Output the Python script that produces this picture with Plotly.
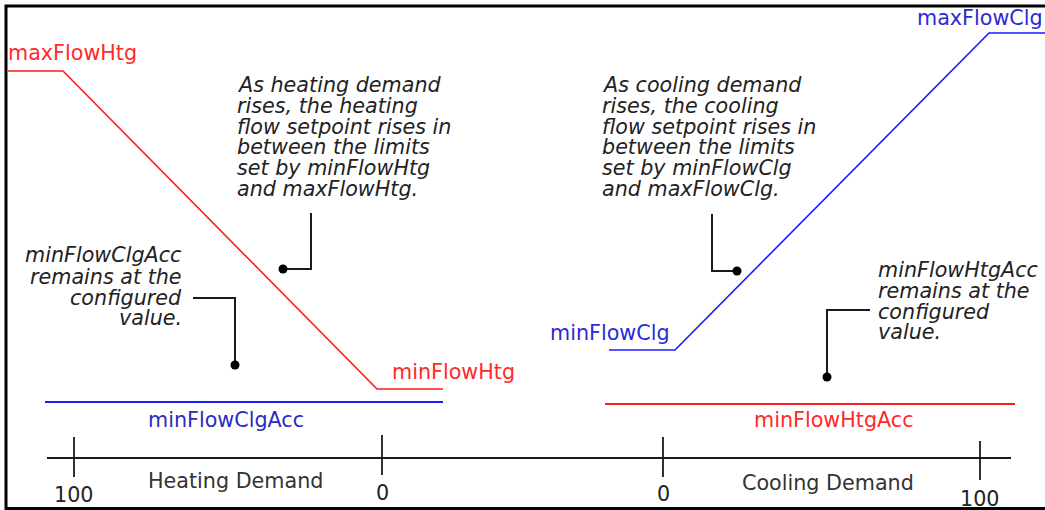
import plotly.graph_objects as go

W, H = 1045, 510

# ---- diagram data (diagram units = picture pixels, y downward) ----
htg_x = [8, 63, 377, 443]          # heating flow setpoint (red)
htg_y = [71, 71, 389, 389]
clg_x = [609, 675, 989, 1045]      # cooling flow setpoint (blue)
clg_y = [350, 350, 33, 33]
clg_acc_x = [45, 443]              # minFlowClgAcc (blue)
clg_acc_y = [402, 402]
htg_acc_x = [605, 1015]            # minFlowHtgAcc (red)
htg_acc_y = [404, 404]

axis_x = [47, 1011]
axis_y = [458, 458]
tick_x = [74, 382, 663, 980]
tick_top = [437, 435, 437, 441]
tick_bot = [477, 475, 477, 480]
tick_labels = ["100", "0", "0", "100"]
tick_label_y = [495, 493, 494, 499]

demand_labels = ["Heating Demand", "Cooling Demand"]
demand_x = [235, 828]
demand_y = [481, 483]

# callouts: polyline vertices, last vertex gets a dot
callouts_x = [[311, 311, 283], [712, 712, 737], [193, 235, 235], [870, 827, 827]]
callouts_y = [[213, 269, 269], [214, 271, 271], [298, 298, 365], [310, 310, 377]]

# frame
frame_x = [1045, 6, 6, 1045]
frame_y = [6, 6, 508.5, 508.5]

heat_note = ["As heating demand", "rises, the heating", "flow setpoint rises in",
             "between the limits", "set by minFlowHtg", "and maxFlowHtg."]
cool_note = ["As cooling demand", "rises, the cooling", "flow setpoint rises in",
             "between the limits", "set by minFlowClg", "and maxFlowClg."]
clgacc_note = ["minFlowClgAcc", "remains at the", "configured", "value."]
htgacc_note = ["minFlowHtgAcc", "remains at the", "configured", "value."]
note_line_y = [85, 106, 127, 147, 168, 189]
acc_line_y_left = [255, 277, 298, 318]
acc_line_y_right = [270, 291, 312, 332]

series_labels = [
    # text, x, y, anchor, colour
    ("maxFlowHtg", 7, 53, "left", "#ff2a2a"),
    ("minFlowHtg", 391, 372, "left", "#ff2a2a"),
    ("maxFlowClg", 1044, 18, "right", "#2b2bd6"),
    ("minFlowClg", 549, 333, "left", "#2b2bd6"),
    ("minFlowClgAcc", 226, 420, "center", "#2b2bc0"),
    ("minFlowHtgAcc", 834, 420, "center", "#ff2a2a"),
]

RED = "#ff1a1a"
BLUE = "#1a1aff"
BLACK = "#1a1a1a"
FONT = "DejaVu Sans"
FS = 20.7

fig = go.Figure()

def line(x, y, color, width):
    fig.add_trace(go.Scatter(x=x, y=y, mode="lines", hoverinfo="skip",
                             line=dict(color=color, width=width), showlegend=False))

line(frame_x, frame_y, "#000000", 3)
line(htg_x, htg_y, RED, 1.6)
line(clg_x, clg_y, BLUE, 1.6)
line(clg_acc_x, clg_acc_y, BLUE, 1.8)
line(htg_acc_x, htg_acc_y, RED, 1.8)
line(axis_x, axis_y, BLACK, 1.8)
for tx, t0, t1 in zip(tick_x, tick_top, tick_bot):
    line([tx, tx], [t0, t1], BLACK, 1.8)
for cx, cy in zip(callouts_x, callouts_y):
    line(cx, cy, BLACK, 2)
fig.add_trace(go.Scatter(x=[c[-1] for c in callouts_x], y=[c[-1] for c in callouts_y],
                         mode="markers", marker=dict(color="#000000", size=9),
                         hoverinfo="skip", showlegend=False))

ann = []
def text(t, x, y, anchor, color, italic=False, size=FS):
    ann.append(dict(text=t, x=x, y=y, xref="x", yref="y", showarrow=False,
                    xanchor=anchor, yanchor="middle", borderpad=0,
                    font=dict(family=FONT, size=size, color=color,
                              style="italic" if italic else "normal")))

for t, x, y, a, c in series_labels:
    text(t, x, y, a, c)
for t, x, y in zip(tick_labels, tick_x, tick_label_y):
    text(t, x, y, "center", "#222222")
for t, x, y in zip(demand_labels, demand_x, demand_y):
    text(t, x, y, "center", "#333333")
for t, y in zip(heat_note, note_line_y):
    text(t, 236, y, "left", "#222222", True)
for t, y in zip(cool_note, note_line_y):
    text(t, 601, y, "left", "#222222", True)
for t, y in zip(clgacc_note, acc_line_y_left):
    text(t, 183, y, "right", "#222222", True)
for t, y in zip(htgacc_note, acc_line_y_right):
    text(t, 877, y, "left", "#222222", True)

fig.update_layout(
    width=W, height=H, margin=dict(l=0, r=0, t=0, b=0),
    paper_bgcolor="white", plot_bgcolor="white",
    xaxis=dict(range=[0, W], visible=False, fixedrange=True),
    yaxis=dict(range=[H, 0], visible=False, fixedrange=True),
    annotations=ann, showlegend=False,
)
fig.write_html("out.html", config={"displayModeBar": False},
               post_script="document.body.style.margin='0';document.body.style.overflow='hidden';")
